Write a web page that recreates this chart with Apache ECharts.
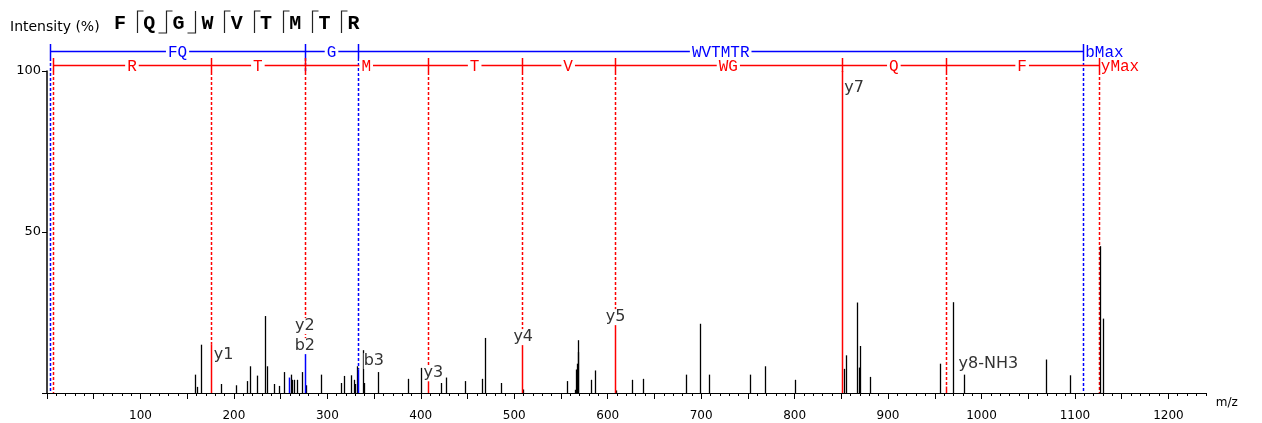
<!DOCTYPE html>
<html><head><meta charset="utf-8">
<script src="https://cdn.jsdelivr.net/npm/echarts@6/dist/echarts.min.js"></script>
<style>html,body{margin:0;padding:0;background:#fff}#c{width:1262px;height:423px}</style>
</head><body><div id="c"></div>
<script>
// ---------------- data ----------------
const sequence = ['F','Q','G','W','V','T','M','T','R'];
const bCleavageAfter = [2, 3];
const yCleavageAfter = [1, 2, 4, 5, 6, 7, 8];

const peakMz = [158.9,160.0,165.0,186.4,202.5,214.2,217.4,224.9,233.1,235.6,243.4,248.5,253.1,260.6,262.0,264.1,267.0,273.4,277.4,293.4,
  314.8,317.6,325.5,328.0,329.1,331.5,337.9,339.4,353.7,386.1,400.0,421.4,427.5,447.8,465.0,469.2,485.3,509.6,556.2,564.8,
  566.3,567.0,567.7,568.4,582.3,585.9,608.7,625.5,638.0,684.3,698.6,707.9,752.5,768.1,800.2,852.9,854.8,867.0,868.4,870.2,
  880.9,955.1,969.5,981.5,1068.5,1094.5,1127.3,1130.2];
const peakIntensity = [5.7,1.9,15.0,2.8,2.4,3.7,8.3,5.4,23.9,8.3,2.8,2.2,6.5,5.7,4.1,4.1,4.1,6.5,2.4,5.7,
  3.1,5.3,5.5,4.1,2.8,8.3,13.3,3.1,6.5,4.4,7.8,3.1,4.8,3.7,4.4,17.1,3.1,1.1,3.7,1.0,
  7.3,9.1,12.7,16.4,4.1,7.0,0.8,4.1,4.4,5.7,21.5,5.7,5.7,8.3,4.1,7.5,11.7,28.1,7.9,14.6,
  5.0,9.1,28.2,5.7,10.4,5.5,45.6,23.1];

const ionLabels = ['', 'y1', 'y2', 'b2', 'b3', 'y3', 'y4', 'y5', 'y7', 'y8-NH3'];
const ionTypes = ['b', 'y', 'y', 'b', 'b', 'y', 'y', 'y', 'y', 'y'];
const ionMz = [259.2, 175.3, 276.0, 275.9, 333.0, 407.2, 508.1, 607.3, 850.9, 961.5];
const ionIntensity = [4.8, 15.0, 12.2, 12.2, 7.3, 5.0, 15.8, 21.7, 100, 2.0];

const bLadderMz = [3.5, 275.9, 333.0, 1108.8];
const bLadderTop = [0, 12.2, 7.3, 0];
const bLadderResidues = ['FQ', 'G', 'WVTMTR'];
const bLadderEnd = 'bMax';
const yLadderMz = [6.5, 175.3, 276.0, 407.2, 508.1, 607.3, 850.9, 961.5, 1125.5];
const yLadderTop = [0, 15.0, 12.2, 5.0, 15.8, 21.7, 100, 2.0, 0];
const yLadderResidues = ['R', 'T', 'M', 'T', 'V', 'WG', 'Q', 'F'];
const yLadderEnd = 'yMax';

// ---------------- layout / style ----------------
const RED = '#ff0000', BLUE = '#0000ff';
const UI_FONT = '"DejaVu Sans", Verdana, sans-serif';
const MONO = '"Liberation Mono", "Courier New", monospace';
const labelLayout = {
  'y1': {dx: 3, dy: 10.6, align: 'left'},
  'y2': {dx: 0, dy: -27.6, align: 'center'},
  'b2': {dx: 0, dy: -7.6, align: 'center'},
  'b3': {dx: 5.5, dy: -8.4, align: 'left'},
  'y3': {dx: -4, dy: -3.6, align: 'left'},
  'y4': {dx: 1.4, dy: -5, align: 'center'},
  'y5': {dx: 1, dy: -6, align: 'center'},
  'y7': {dx: 2, dy: 17, align: 'left'},
  'y8-NH3': {dx: 13, dy: -23, align: 'left'}
};
const GRID_LEFT = 47, GRID_TOP = 71, GRID_H = 322, PX_PER_MZ = 0.9345;
const X_MAX = 1240;

function crisp(x) { return Math.round(x) + 0.5; }
function ladderY(api, ladder) {
  const y100 = api.coord([0, 100])[1];
  return ladder === 0 ? y100 - 20 : y100 - 6;
}

// ---------------- series data ----------------
const peakData = peakMz.map((m, i) => [m, peakIntensity[i]]);
const ionData = ionMz.map((m, i) => [m, ionIntensity[i], ionTypes[i] === 'b' ? 0 : 1, i]);
const markerData = [];
bLadderMz.forEach((m, i) => markerData.push([m, bLadderTop[i], 0]));
yLadderMz.forEach((m, i) => markerData.push([m, yLadderTop[i], 1]));
const segData = [];
bLadderResidues.forEach((r, i) => segData.push([bLadderMz[i], bLadderMz[i + 1], 0, i]));
yLadderResidues.forEach((r, i) => segData.push([yLadderMz[i], yLadderMz[i + 1], 1, i]));
const endData = [[bLadderMz[bLadderMz.length - 1], 0, 0], [yLadderMz[yLadderMz.length - 1], 0, 1]];

function peakRender(params, api) {
  const p0 = api.coord([api.value(0), 0]);
  const p1 = api.coord([api.value(0), api.value(1)]);
  const x = crisp(p0[0]);
  return {type: 'line', silent: true, shape: {x1: x, y1: p0[1], x2: x, y2: p1[1]},
    style: {stroke: '#000', lineWidth: 1.3}};
}
function ionPeakRender(params, api) {
  const p0 = api.coord([api.value(0), 0]);
  const p1 = api.coord([api.value(0), api.value(1)]);
  const x = crisp(p0[0]);
  const isB = api.value(2) === 0;
  if (!isB) {
    // a y peak hidden under a b peak at the same position is drawn by the b peak
    const covered = ionMz.some((m, i) => ionTypes[i] === 'b' && crisp(api.coord([m, 0])[0]) === x);
    if (covered) return null;
  }
  return {type: 'line', silent: true, shape: {x1: x, y1: p0[1], x2: x, y2: p1[1]},
    style: {stroke: isB ? BLUE : RED, lineWidth: 1.5}};
}
function markerRender(params, api) {
  const lad = api.value(2);
  const col = lad === 0 ? BLUE : RED;
  const ly = ladderY(api, lad);
  const pTop = api.coord([api.value(0), api.value(1)]);
  const x = crisp(pTop[0]);
  let end = pTop[1];
  if (lad === 0) {
    const shared = yLadderMz.some(m => Math.abs(api.coord([m, 0])[0] - pTop[0]) < 1.5);
    if (shared) end = Math.min(end, ladderY(api, 1) + 7);
  }
  const children = [
    {type: 'line', shape: {x1: x, y1: ly - 7, x2: x, y2: ly + 7}, style: {stroke: col, lineWidth: 1.5}}
  ];
  if (end > ly + 7) {
    children.push({type: 'line', shape: {x1: x, y1: ly + 7, x2: x, y2: end},
      style: {stroke: col, lineWidth: 1.5, lineDash: [3, 2]}});
  }
  return {type: 'group', silent: true, children};
}
function segRender(params, api) {
  const lad = api.value(2);
  const col = lad === 0 ? BLUE : RED;
  const ly = Math.round(ladderY(api, lad)) + 0.5;
  const a = api.coord([api.value(0), 0])[0];
  const b = api.coord([api.value(1), 0])[0];
  const txt = (lad === 0 ? bLadderResidues : yLadderResidues)[api.value(3)];
  return {type: 'group', silent: true, children: [
    {type: 'line', shape: {x1: crisp(a), y1: ly, x2: crisp(b), y2: ly}, style: {stroke: col, lineWidth: 1.5}},
    {type: 'text', style: {text: txt, x: (a + b) / 2, y: ly + 1, align: 'center', verticalAlign: 'middle',
      fill: col, font: '16px ' + MONO, backgroundColor: '#fff', padding: [0, 2]}}
  ]};
}
function endRender(params, api) {
  const lad = api.value(2);
  const col = lad === 0 ? BLUE : RED;
  const ly = ladderY(api, lad);
  const x = api.coord([api.value(0), 0])[0];
  return {type: 'text', silent: true, style: {text: lad === 0 ? bLadderEnd : yLadderEnd, x: x + 2, y: ly + 2,
    align: 'left', verticalAlign: 'middle', fill: col, font: '16px ' + MONO}};
}
function labelRender(params, api) {
  const name = ionLabels[api.value(3)];
  if (!name) return null;
  const lay = labelLayout[name];
  const p = api.coord([api.value(0), api.value(1)]);
  return {type: 'text', silent: true, style: {text: name, x: p[0] + lay.dx, y: p[1] + lay.dy,
    align: lay.align, verticalAlign: 'middle', fill: '#333', font: '16px ' + UI_FONT,
    backgroundColor: '#fff'}};
}

// ---------------- header ----------------
const header = [{type: 'text', left: 10, top: 20, style: {text: 'Intensity (%)', fill: '#000', font: '14px ' + UI_FONT}}];
const letterX = i => 120 + 29.2 * i;
sequence.forEach((s, i) => {
  header.push({type: 'text', x: letterX(i), y: 24, style: {text: s, align: 'center', verticalAlign: 'middle',
    fill: '#000', font: 'bold 20px ' + MONO}});
});
for (let k = 1; k < sequence.length; k++) {
  const hasB = bCleavageAfter.includes(k), hasY = yCleavageAfter.includes(k);
  if (!hasB && !hasY) continue;
  const xv = Math.round(letterX(k) - 12.5) + 0.5;
  const pts = [];
  if (hasB) pts.push([xv - 8, 33]);
  pts.push([xv, 33]);
  pts.push([xv, 11]);
  if (hasY) pts.push([xv + 6, 11]);
  header.push({type: 'polyline', shape: {points: pts}, style: {stroke: '#222', lineWidth: 1.2, fill: null}});
}

// ---------------- chart ----------------
const chart = echarts.init(document.getElementById('c'));
chart.setOption({
  animation: false,
  backgroundColor: '#fff',
  grid: [
    {left: GRID_LEFT, top: GRID_TOP, width: X_MAX * PX_PER_MZ, height: GRID_H},
    {left: GRID_LEFT, top: GRID_TOP, width: 1200 * PX_PER_MZ, height: GRID_H}
  ],
  xAxis: [
    {type: 'value', gridIndex: 0, min: 0, max: X_MAX, interval: 10,
      axisLine: {show: true, lineStyle: {color: '#000', width: 1}},
      axisTick: {show: true, length: 3, lineStyle: {color: '#000'}},
      axisLabel: {show: false}, splitLine: {show: false},
      name: 'm/z', nameLocation: 'end', nameGap: 10,
      nameTextStyle: {color: '#000', fontSize: 12, fontFamily: UI_FONT, verticalAlign: 'top', padding: [4, 0, 0, 0]}},
    {type: 'value', gridIndex: 1, min: 0, max: 1200, interval: 50,
      axisLine: {show: false},
      axisTick: {show: true, length: 6, lineStyle: {color: '#000'}},
      axisLabel: {show: true, margin: 17, color: '#000', fontSize: 12, fontFamily: UI_FONT,
        formatter: v => (v > 0 && v % 100 === 0) ? String(v) : ''},
      splitLine: {show: false}}
  ],
  yAxis: [
    {type: 'value', gridIndex: 0, min: 0, max: 100, interval: 50,
      axisLine: {show: true, lineStyle: {color: '#000', width: 1.5}},
      axisTick: {show: true, length: 5, lineStyle: {color: '#000'}},
      axisLabel: {show: true, margin: 6, color: '#000', fontSize: 13, fontFamily: UI_FONT,
        formatter: v => v > 0 ? String(v) : ''},
      splitLine: {show: false}},
    {type: 'value', gridIndex: 1, min: 0, max: 100, show: false}
  ],
  graphic: header,
  series: [
    {type: 'custom', name: 'markers', xAxisIndex: 0, yAxisIndex: 0, clip: false, data: markerData.filter(d => d[2] === 0), renderItem: markerRender, z: 2},
    {type: 'custom', name: 'markersY', xAxisIndex: 0, yAxisIndex: 0, clip: false, data: markerData.filter(d => d[2] === 1), renderItem: markerRender, z: 3},
    {type: 'custom', name: 'ladder', xAxisIndex: 0, yAxisIndex: 0, clip: false, data: segData, renderItem: segRender, z: 4},
    {type: 'custom', name: 'ladderEnd', xAxisIndex: 0, yAxisIndex: 0, clip: false, data: endData, renderItem: endRender, z: 4},
    {type: 'custom', name: 'peaks', xAxisIndex: 0, yAxisIndex: 0, clip: false, data: peakData, renderItem: peakRender, z: 5},
    {type: 'custom', name: 'ionsY', xAxisIndex: 0, yAxisIndex: 0, clip: false, data: ionData.filter(d => d[2] === 1), renderItem: ionPeakRender, z: 6},
    {type: 'custom', name: 'ionsB', xAxisIndex: 0, yAxisIndex: 0, clip: false, data: ionData.filter(d => d[2] === 0), renderItem: ionPeakRender, z: 7},
    {type: 'custom', name: 'labels', xAxisIndex: 0, yAxisIndex: 0, clip: false, data: ionData, renderItem: labelRender, z: 8}
  ]
});
</script></body></html>
